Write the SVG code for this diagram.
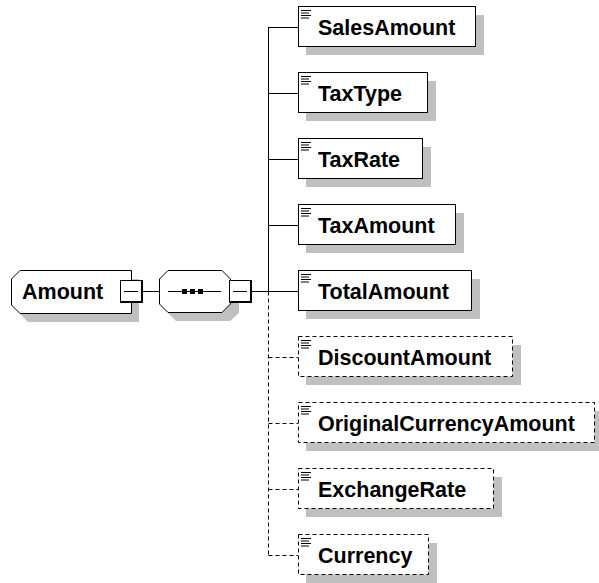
<svg xmlns="http://www.w3.org/2000/svg" width="599" height="583" viewBox="0 0 599 583">
<style>
.bg{fill:#fff}
.box{fill:#fff;stroke:#000;stroke-width:1}
.opt{stroke-dasharray:4 3}
.sh{fill:#c0c0c0}
.ln{stroke:#000;stroke-width:1;fill:none}
.dash{stroke-dasharray:4 3}
.lbl{font-family:"Liberation Sans",Arial,sans-serif;font-weight:bold;font-size:21.5px;fill:#000}
.ic{stroke:#000;stroke-width:1}
</style>
<defs>
<g id="icon">
<line class="ic" x1="3" y1="4.5" x2="13" y2="4.5"/>
<line class="ic" x1="3" y1="7" x2="11" y2="7"/>
<line class="ic" x1="3" y1="9.5" x2="13" y2="9.5"/>
<line class="ic" x1="3" y1="12" x2="11" y2="12"/>
</g>
<g id="minus">
<rect x="0.5" y="0.5" width="21" height="21" fill="#fff" stroke="#000"/>
<line x1="22" y1="0" x2="22" y2="23" stroke="#000" stroke-width="2"/>
<line x1="0" y1="22" x2="23" y2="22" stroke="#000" stroke-width="2"/>
<line x1="4" y1="11.5" x2="18" y2="11.5" stroke="#000"/>
</g>
</defs>
<rect class="bg" x="0" y="0" width="599" height="583"/>

<g id="connectors">
<line class="ln" x1="142" y1="291.5" x2="160" y2="291.5"/>
<line class="ln" x1="251" y1="291.5" x2="268.5" y2="291.5"/>
<line class="ln" x1="268.5" y1="27" x2="268.5" y2="291.5"/>
<line class="ln dash" x1="268.5" y1="291.5" x2="268.5" y2="555.5"/>
<line class="ln" x1="268.5" y1="27.5" x2="298" y2="27.5"/>
<line class="ln" x1="268.5" y1="93.5" x2="298" y2="93.5"/>
<line class="ln" x1="268.5" y1="159.5" x2="298" y2="159.5"/>
<line class="ln" x1="268.5" y1="225.5" x2="298" y2="225.5"/>
<line class="ln" x1="268.5" y1="291.5" x2="298" y2="291.5"/>
<line class="ln dash" x1="268.5" y1="357.5" x2="298" y2="357.5"/>
<line class="ln dash" x1="268.5" y1="423.5" x2="298" y2="423.5"/>
<line class="ln dash" x1="268.5" y1="489.5" x2="298" y2="489.5"/>
<line class="ln dash" x1="268.5" y1="555.5" x2="298" y2="555.5"/>
</g>

<g id="Amount">
<polygon class="sh" points="28,279 139,279 139,322 28,322 20,314 20,288"/>
<polygon class="box" points="20,270.5 131.5,270.5 131.5,313.5 20,313.5 11.5,305 11.5,279"/>
<text class="lbl" x="22" y="299">Amount</text>
<use href="#minus" x="120" y="280"/>
</g>

<g id="sequence">
<polygon class="sh" points="176,279 230,279 239,288 239,313 230,321 176,321 168,313 168,288"/>
<polygon class="box" points="168,270.5 222,270.5 230.5,279 230.5,304 222,312.5 168,312.5 159.5,304 159.5,279"/>
<line class="ln" x1="168" y1="291.5" x2="221" y2="291.5"/>
<rect x="182" y="289" width="5" height="5" fill="#000"/>
<rect x="190" y="289" width="5" height="5" fill="#000"/>
<rect x="198" y="289" width="5" height="5" fill="#000"/>
<use href="#minus" x="229" y="280"/>
</g>

<g id="SalesAmount">
<rect class="sh" x="306" y="15" width="178" height="40"/>
<rect class="box" x="298.5" y="6.5" width="177" height="40"/>
<use href="#icon" x="298" y="6"/>
<text class="lbl" x="318" y="35">SalesAmount</text>
</g>
<g id="TaxType">
<rect class="sh" x="306" y="81" width="130" height="40"/>
<rect class="box" x="298.5" y="72.5" width="129" height="40"/>
<use href="#icon" x="298" y="72"/>
<text class="lbl" x="318" y="101">TaxType</text>
</g>
<g id="TaxRate">
<rect class="sh" x="306" y="147" width="125" height="40"/>
<rect class="box" x="298.5" y="138.5" width="124" height="40"/>
<use href="#icon" x="298" y="138"/>
<text class="lbl" x="318" y="167">TaxRate</text>
</g>
<g id="TaxAmount">
<rect class="sh" x="306" y="213" width="158" height="40"/>
<rect class="box" x="298.5" y="204.5" width="157" height="40"/>
<use href="#icon" x="298" y="204"/>
<text class="lbl" x="318" y="233">TaxAmount</text>
</g>
<g id="TotalAmount">
<rect class="sh" x="306" y="279" width="174" height="40"/>
<rect class="box" x="298.5" y="270.5" width="173" height="40"/>
<use href="#icon" x="298" y="270"/>
<text class="lbl" x="318" y="299">TotalAmount</text>
</g>
<g id="DiscountAmount">
<rect class="sh" x="306" y="345" width="215" height="40"/>
<rect class="box opt" x="298.5" y="336.5" width="214" height="40"/>
<use href="#icon" x="298" y="336"/>
<text class="lbl" x="318" y="365">DiscountAmount</text>
</g>
<g id="OriginalCurrencyAmount">
<rect class="sh" x="306" y="411" width="297" height="40"/>
<rect class="box opt" x="298.5" y="402.5" width="296" height="40"/>
<use href="#icon" x="298" y="402"/>
<text class="lbl" x="318" y="431">OriginalCurrencyAmount</text>
</g>
<g id="ExchangeRate">
<rect class="sh" x="306" y="477" width="196" height="40"/>
<rect class="box opt" x="298.5" y="468.5" width="195" height="40"/>
<use href="#icon" x="298" y="468"/>
<text class="lbl" x="318" y="497">ExchangeRate</text>
</g>
<g id="Currency">
<rect class="sh" x="306" y="543" width="131" height="40"/>
<rect class="box opt" x="298.5" y="534.5" width="130" height="40"/>
<use href="#icon" x="298" y="534"/>
<text class="lbl" x="318" y="563">Currency</text>
</g>
</svg>
